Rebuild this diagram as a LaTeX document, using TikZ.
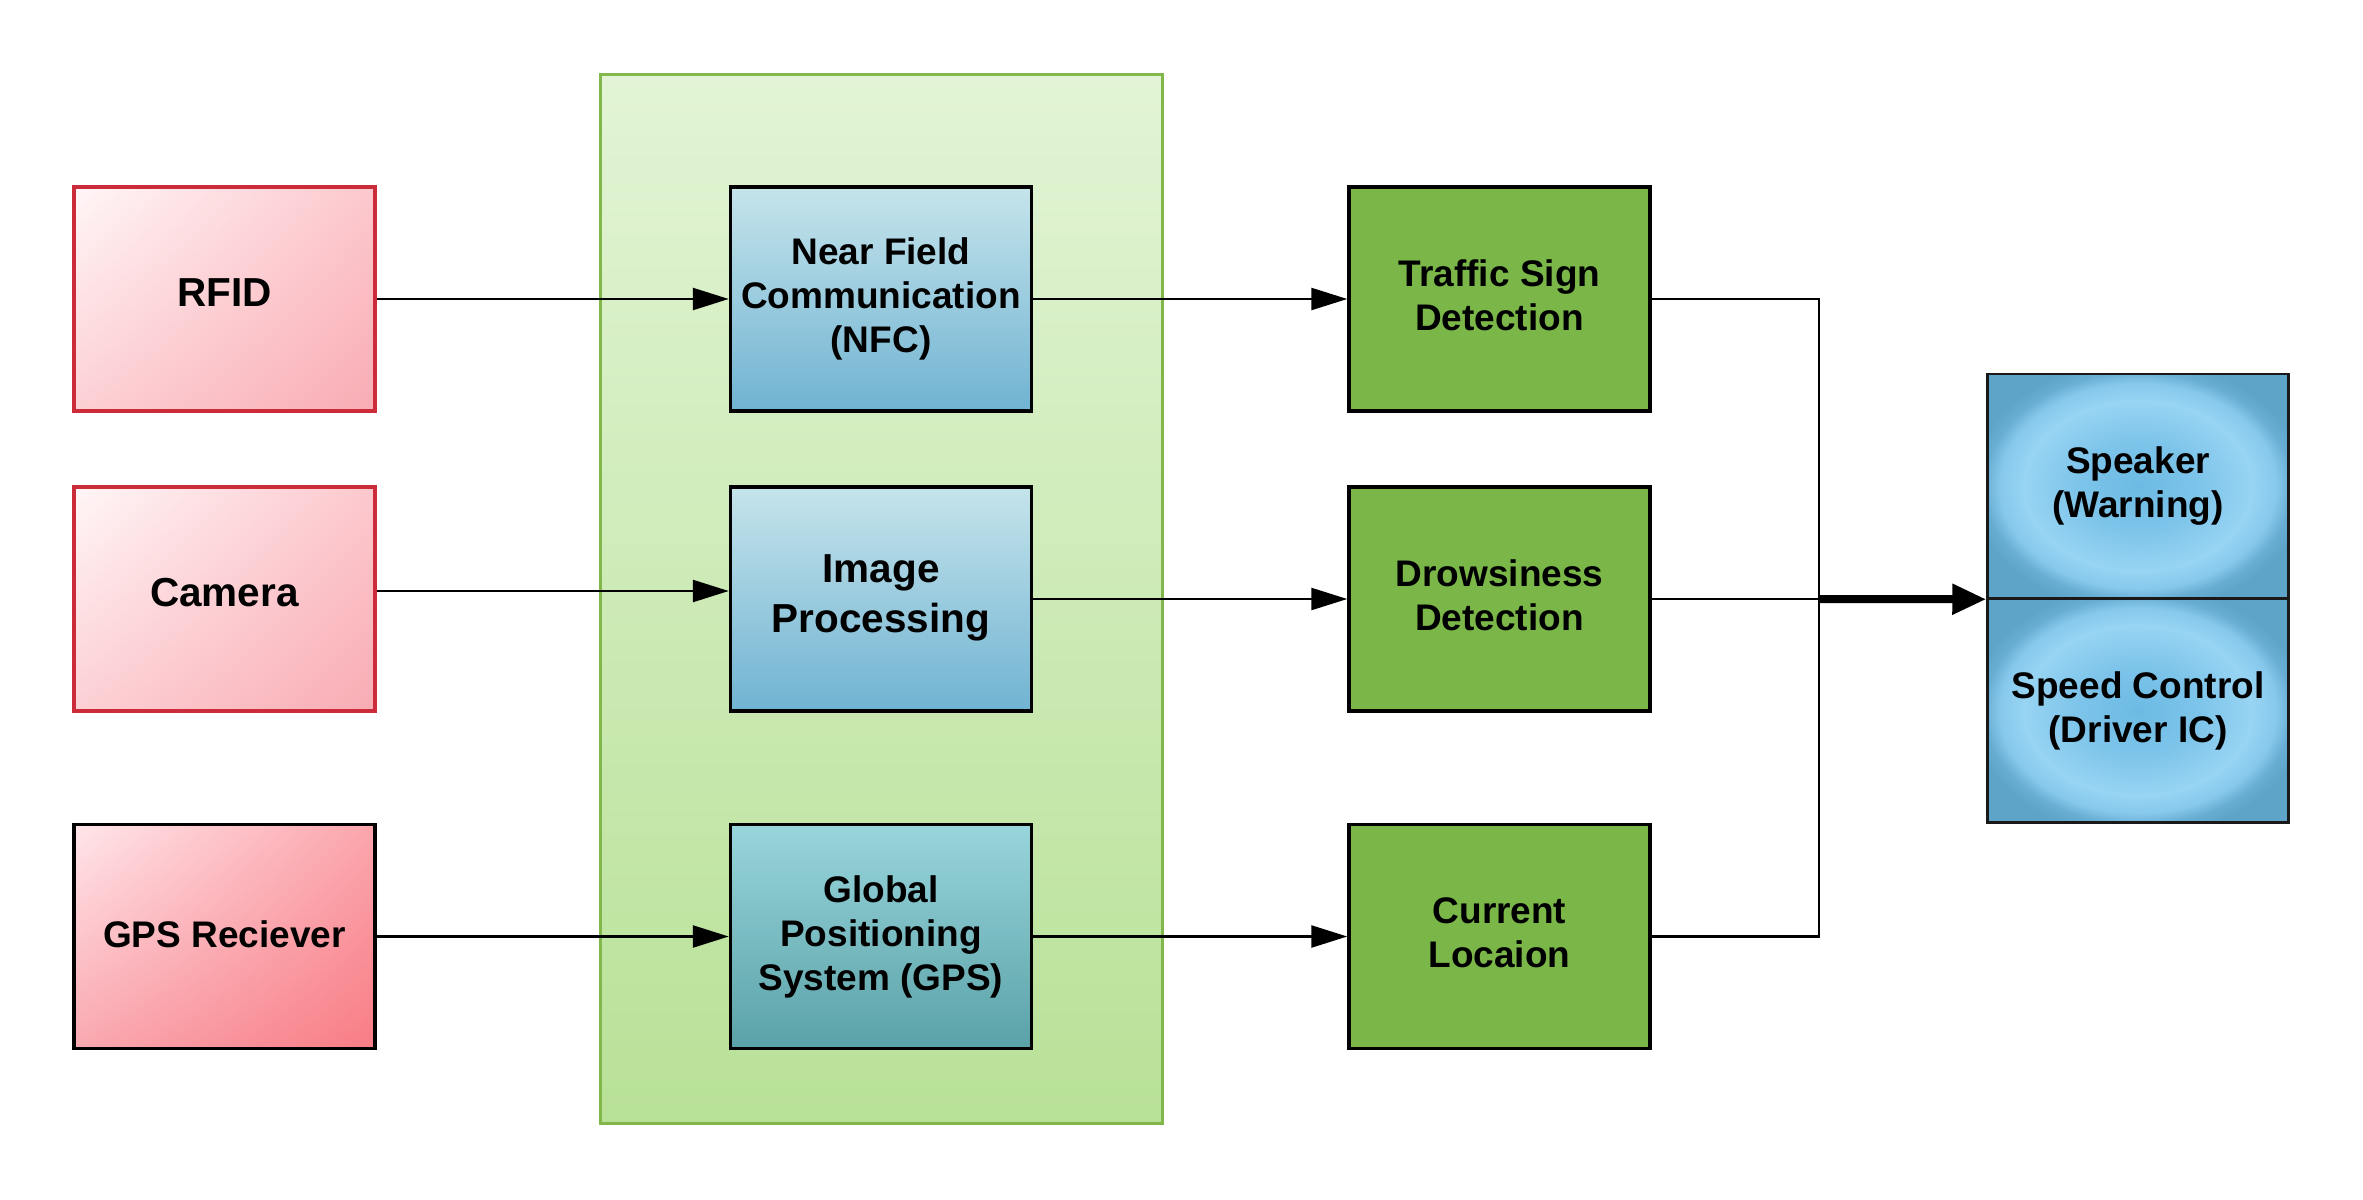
\documentclass[tikz,border=0pt]{standalone}
\usepackage{fontspec}
\setmainfont{Liberation Sans}
\usetikzlibrary{arrows.meta,calc,shadings}
\definecolor{redborder}{HTML}{CC2B3A}
\definecolor{rUL}{HTML}{FFF6F7}
\definecolor{rUR}{HTML}{FCC8CD}
\definecolor{rLL}{HTML}{FCD0D4}
\definecolor{rLR}{HTML}{F9ACB4}
\definecolor{gUL}{HTML}{FFE6EA}
\definecolor{gUR}{HTML}{FBA5AC}
\definecolor{gLL}{HTML}{FAA8B0}
\definecolor{gLR}{HTML}{F87C85}
\definecolor{contborder}{HTML}{82B74B}
\definecolor{conttop}{HTML}{E2F4D5}
\definecolor{contbot}{HTML}{B8E197}
\definecolor{bluetop}{HTML}{C5E4EB}
\definecolor{bluebot}{HTML}{70B3D2}
\definecolor{tealtop}{HTML}{98D5DC}
\definecolor{tealbot}{HTML}{5AA2A7}
\definecolor{greenbox}{HTML}{7AB648}
\definecolor{spkA}{HTML}{6CBAE3}
\definecolor{spkB}{HTML}{7DC4EA}
\definecolor{spkC}{HTML}{98D4F3}
\definecolor{spkD}{HTML}{86C8EC}
\definecolor{spkE}{HTML}{68ADD3}
\definecolor{spkF}{HTML}{5EA4C9}
\pgfdeclareradialshading{spkshade}{\pgfpoint{0bp}{0bp}}{color(0bp)=(spkA); color(10bp)=(spkB); color(19bp)=(spkC); color(23bp)=(spkD); color(25.5bp)=(spkE); color(28bp)=(spkF); color(50bp)=(spkF)}
\begin{document}
\begin{tikzpicture}[x=0.5pt,y=-0.5pt,
  box/.style={draw, line width=1.75pt, minimum width=150.5pt, minimum height=112pt, inner sep=0pt},
  txt/.style={inner sep=0pt, align=center, font=\bfseries\fontsize{18.5}{22}\selectfont},
  bigtxt/.style={txt, font=\bfseries\fontsize{20.25}{25}\selectfont},
  redbox/.style={box, draw=redborder, upper left=rUL, upper right=rUR, lower left=rLL, lower right=rLR},
  redbox2/.style={box, draw=black, upper left=gUL, upper right=gUR, lower left=gLL, lower right=gLR},
  bluebox/.style={box, draw=black, top color=bluetop, bottom color=bluebot},
  tealbox/.style={box, draw=black, top color=tealtop, bottom color=tealbot},
  greenbx/.style={box, draw=black, fill=greenbox},
  spkbox/.style={box, draw=black!90, line width=1.25pt, shading=spkshade},
  conn/.style={line width=1.25pt, -{Triangle[length=18pt,width=11pt]}},
  wire/.style={line width=1.25pt},
  thickconn/.style={line width=4pt, -{Triangle[length=17pt,width=14.5pt]}}
]
\useasboundingbox (0,0) rectangle (2363,1200);
\fill[white] (0,0) rectangle (2363,1200);

% container
\node[draw=contborder, line width=1.5pt, top color=conttop, bottom color=contbot, minimum width=281pt, minimum height=524.5pt, inner sep=0pt] (cont) at (881,598.5) {};

% inputs
\node[redbox] (rfid) at (224.5,299) {};
\node[redbox] (cam) at (224.5,599) {};
\node[redbox2] (gpsr) at (224.5,936.5) {};

% processing
\node[bluebox] (nfc) at (881,299) {};
\node[bluebox] (imgp) at (881,599) {};
\node[tealbox] (gps) at (881,936.5) {};

% detection
\node[greenbx] (tsd) at (1499.5,299) {};
\node[greenbx] (dd) at (1499.5,599) {};
\node[greenbx] (cl) at (1499.5,936.5) {};

% outputs
\node[spkbox] (spk) at (2138,486) {};
\node[spkbox] (spc) at (2138,710.5) {};

% texts
\node[bigtxt] (rfidT) at ([yshift=3.25pt]rfid.center) {RFID};
\node[bigtxt] (camT) at ([yshift=3.25pt]cam.center) {Camera};
\node[txt] (gpsrT) at ([yshift=1.2pt]gpsr.center) {GPS Reciever};
\node[txt] (nfcT) at (nfc.center) {Near Field\\Communication\\(NFC)};
\node[bigtxt] (imgpT) at ([yshift=0.6pt]imgp.center) {Image\\Processing};
\node[txt] (gpsT) at (gps.center) {Global\\Positioning\\System (GPS)};
\node[txt] (tsdT) at ([yshift=2pt]tsd.center) {Traffic Sign\\Detection};
\node[txt] (ddT) at ([yshift=2pt]dd.center) {Drowsiness\\Detection};
\node[txt] (clT) at ([yshift=1.8pt]cl.center) {Current\\Locaion};
\node[txt] (spkT) at (spk.center) {Speaker\\(Warning)};
\node[txt] (spcT) at (spc.center) {Speed Control\\(Driver IC)};

% bus
\coordinate (bustop) at (1819,299);
\coordinate (busmid) at (1819,599);
\coordinate (busbot) at (1819,936.5);

% connectors
\draw[conn] (rfid.east) -- (nfc.west);
\draw[conn] ([yshift=4pt]cam.east) -- ([yshift=4pt]imgp.west);
\draw[conn] (gpsr.east) -- (gps.west);
\draw[conn] (nfc.east) -- (tsd.west);
\draw[conn] (imgp.east) -- (dd.west);
\draw[conn] (gps.east) -- (cl.west);
\draw[wire] (tsd.east) -- (bustop) -- (busbot) -- (cl.east);
\draw[wire] (dd.east) -- (busmid);
\draw[thickconn] (busmid) -- (spk.south west);
\end{tikzpicture}
\end{document}
